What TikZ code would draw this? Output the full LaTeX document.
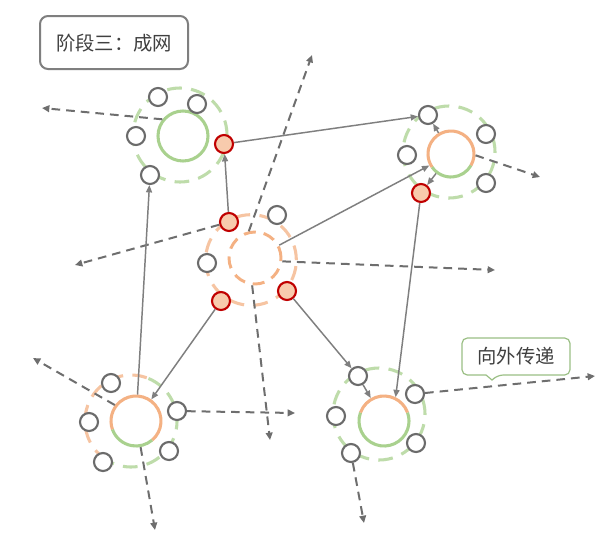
\documentclass[tikz,border=0pt]{standalone}
\usepackage{fontspec}
\newfontfamily\cjk{Noto Sans CJK SC}
\usetikzlibrary{arrows.meta}
\definecolor{linegray}{HTML}{7F7F7F}
\definecolor{dashgray}{HTML}{6E6E6E}
\definecolor{nodegray}{HTML}{6B6B6B}
\definecolor{lgreen}{HTML}{A9D18E}
\definecolor{lorange}{HTML}{F4B183}
\definecolor{darkred}{HTML}{C00000}
\definecolor{peach}{HTML}{F8CBAD}
\definecolor{txt}{HTML}{404040}
\definecolor{callgreen}{HTML}{9BBF85}
\tikzset{
  gnode/.style={circle, draw=nodegray, line width=1.6pt, fill=white, minimum size=13.5pt, inner sep=0pt},
  rnode/.style={circle, draw=darkred, line width=1.6pt, fill=peach, minimum size=13.5pt, inner sep=0pt},
  bigc/.style={circle, line width=2.3pt, minimum size=37.5pt, inner sep=0pt},
  ringdash/.style={line width=2.3pt, dash pattern=on 11pt off 7pt, opacity=0.75},
  conn/.style={draw=linegray, line width=1.1pt, -{Triangle[length=5.5pt,width=4.5pt]}},
  outconn/.style={draw=dashgray, line width=1.5pt, dash pattern=on 6.5pt off 4.5pt, -{Triangle[length=5.5pt,width=5pt]}},
  labeltext/.style={font=\cjk\fontsize{14.5pt}{17pt}\selectfont, text=txt}
}
\begin{document}
\begin{tikzpicture}[x=0.75pt,y=-0.75pt]
\useasboundingbox (0,0) rectangle (602,533);
\fill[white] (0,0) rectangle (602,533);

% title
\draw[draw=linegray, line width=1.5pt, rounded corners=6pt, fill=white] (40,16) rectangle (188,69);
\node[labeltext] (title) at (114,43) {阶段三：成网};

% ring centres
\coordinate (tlO) at (180,135);
\coordinate (trO) at (449,152);
\coordinate (cO) at (251,260);
\coordinate (blO) at (131,421);
\coordinate (brO) at (379,414);

% outer dashed rings
\draw[ringdash, lgreen] (tlO) circle[radius=35.25pt];
\draw[ringdash, lgreen] (trO) circle[radius=34.5pt];
\draw[ringdash, lorange] (cO) circle[radius=34pt];
\draw[ringdash, lorange] (blO) ++(70:34.5pt) arc[start angle=70, end angle=230, radius=34.5pt];
\draw[ringdash, lgreen] (blO) ++(230:34.5pt) arc[start angle=230, end angle=430, radius=34.5pt];
\draw[ringdash, lgreen] (brO) circle[radius=34.5pt];

% big circles
\node[bigc, draw=lgreen] (tlB) at (183,136) {};
\node[bigc, minimum size=34.5pt] (trB) at (451,154) {};
\draw[lorange, line width=2.3pt] (trB.center) ++(-30:17.25pt) arc[start angle=-30, end angle=215, radius=17.25pt];
\draw[lgreen, line width=2.3pt] (trB.center) ++(215:17.25pt) arc[start angle=215, end angle=330, radius=17.25pt];
\node[circle, minimum size=39pt, inner sep=0pt, draw=lorange, line width=2.2pt, dash pattern=on 9pt off 6pt] (cin) at (255,258) {};
\node[bigc] (blB) at (136,421) {};
\draw[lorange, line width=2.3pt] (blB.center) ++(-50:18.75pt) arc[start angle=-50, end angle=200, radius=18.75pt];
\draw[lgreen, line width=2.3pt] (blB.center) ++(200:18.75pt) arc[start angle=200, end angle=310, radius=18.75pt];
\node[bigc] (brB) at (384,421) {};
\draw[lgreen, line width=2.3pt] (brB.center) ++(160:18.75pt) arc[start angle=160, end angle=380, radius=18.75pt];
\draw[lorange, line width=2.3pt] (brB.center) ++(20:18.75pt) arc[start angle=20, end angle=160, radius=18.75pt];

% small nodes
\node[gnode] (tl1) at (158,97) {};
\node[gnode] (tl2) at (197,104) {};
\node[gnode] (tl3) at (136,136) {};
\node[gnode] (tl4) at (150,175) {};
\node[rnode] (tl5) at (224,144) {};

\node[gnode] (tr1) at (428,115) {};
\node[gnode] (tr2) at (486,134) {};
\node[gnode] (tr3) at (407,155) {};
\node[gnode] (tr4) at (486,183) {};
\node[rnode] (tr5) at (421,193) {};

\node[rnode] (c1) at (229,222) {};
\node[gnode] (c2) at (277,215) {};
\node[gnode] (c3) at (207,263) {};
\node[rnode] (c4) at (221,301) {};
\node[rnode] (c5) at (287,291) {};

\node[gnode] (bl1) at (111,383) {};
\node[gnode] (bl2) at (89,422) {};
\node[gnode] (bl3) at (177,411) {};
\node[gnode] (bl4) at (103,462) {};
\node[gnode] (bl5) at (169,451) {};

\node[gnode] (br1) at (358,376) {};
\node[gnode] (br2) at (415,394) {};
\node[gnode] (br3) at (336,416) {};
\node[gnode] (br4) at (351,453) {};
\node[gnode] (br5) at (416,443) {};

% free ends
\coordinate (e1) at (42,108);
\coordinate (e2) at (540,177);
\coordinate (e3) at (75,265);
\coordinate (e4) at (312,55);
\coordinate (e5) at (495,270);
\coordinate (e6) at (270,440);
\coordinate (e7) at (33,358);
\coordinate (e8) at (295,413);
\coordinate (e9) at (155,530);
\coordinate (e10) at (595,376);
\coordinate (e11) at (364,523);

% outward dashed arrows
\draw[outconn] (tlB.141) -- (e1);
\draw[outconn] (trB.-3) -- (e2);
\draw[outconn] (c1) -- (e3);
\draw[outconn] (cin.103) -- (e4);
\draw[outconn] (cin.-7) -- (e5);
\draw[outconn] (cin.264) -- (e6);
\draw[outconn] (blB.143) -- (e7);
\draw[outconn] (bl3) -- (e8);
\draw[outconn] (blB.-80) -- (e9);
\draw[outconn] (br2) -- (e10);
\draw[outconn] (br4) -- (e11);

% solid arrows
\draw[conn] (c1) -- (tl5);
\draw[conn] (tl5) -- (tr1);
\draw[conn] (cin) -- (trB);
\draw[conn] (trB) -- (tr1);
\draw[conn] (trB) -- (tr5);
\draw[conn] (tr5) -- (brB.64);
\draw[conn] (c5) -- (br1);
\draw[conn] (br1) -- (brB);
\draw[conn] (c4) -- (blB);
\draw[conn] (blB) -- (tl4);

% callout
\draw[draw=callgreen, line width=0.9pt, fill=white, rounded corners=4pt]
  (462,338) -- (570,338) -- (570,375) -- (498,375) [sharp corners] -- (492,380) -- (486,375) [rounded corners=4pt] -- (462,375) -- cycle;
\node[labeltext] (call) at (516,356) {向外传递};
\end{tikzpicture}
\end{document}
